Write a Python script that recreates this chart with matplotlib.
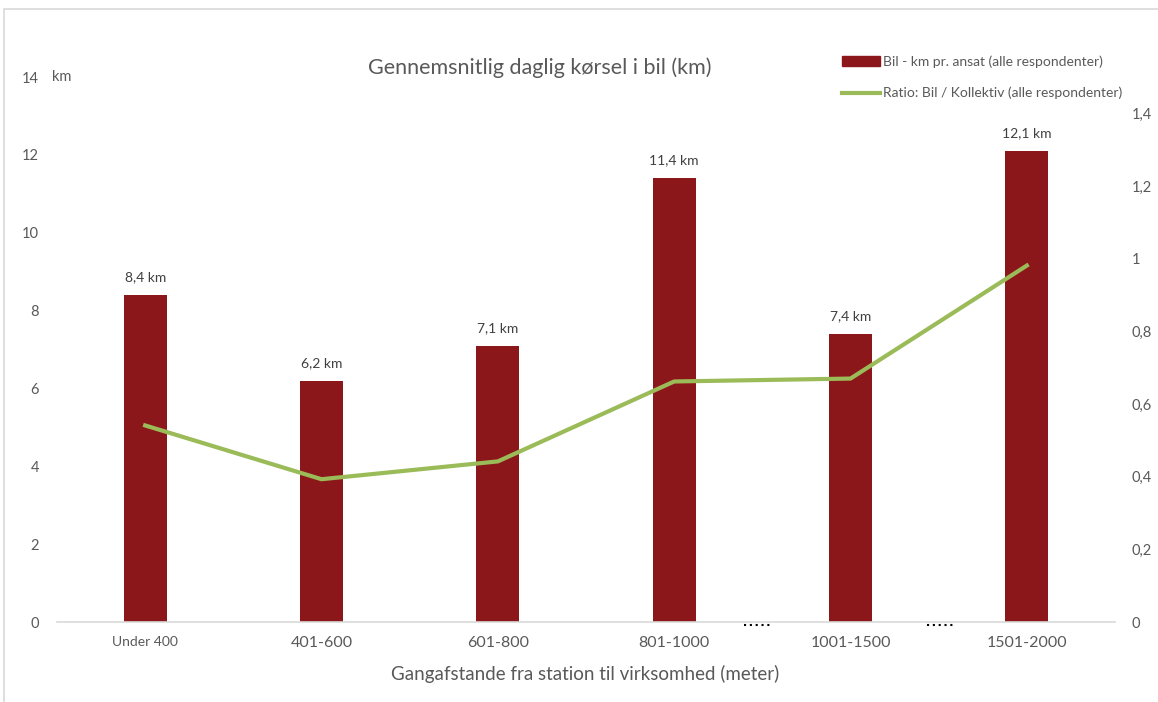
import matplotlib.pyplot as plt
from matplotlib.lines import Line2D
from matplotlib.patches import Patch, Rectangle
import numpy as np

plt.rcParams['font.family'] = ['Lato', 'DejaVu Sans']

categories = ["Under 400", "401-600", "601-800", "801-1000", "1001-1500", "1501-2000"]
bil_km = [8.4, 6.2, 7.1, 11.4, 7.4, 12.1]
ratio = [0.541, 0.393, 0.442, 0.662, 0.670, 0.981]
left_ticks = [0, 2, 4, 6, 8, 10, 12, 14]
right_ticks = [0, 0.2, 0.4, 0.6, 0.8, 1.0, 1.2, 1.4]

bar_color = "#8B171A"
line_color = "#9BBB59"
grey = "#595959"

fig = plt.figure(figsize=(11.58, 7.02), dpi=100)
fig.patches.append(Rectangle((4 / 1158, -0.1), 1.2, 1 - 8.5 / 702 + 0.1,
                             transform=fig.transFigure, fill=False,
                             edgecolor="#D9D9D9", linewidth=1.2))

ax = fig.add_axes([57 / 1158, 1 - 622 / 702, 1058 / 1158, 545 / 702])
x = np.arange(len(categories))
bars = ax.bar(x, bil_km, width=0.245, color=bar_color, zorder=2)
ax.set_xlim(-0.5, len(categories) - 0.5)
ax.set_ylim(0, 14)

for xi, v in zip(x, bil_km):
    ax.text(xi, v + 0.3, f"{v:.1f} km".replace(".", ","), ha="center", va="bottom",
            fontsize=10, color="#404040")

for s in ["top", "left", "right"]:
    ax.spines[s].set_visible(False)
ax.spines["bottom"].set_color("#D9D9D9")
ax.spines["bottom"].set_linewidth(1.2)
ax.tick_params(axis="both", length=0)
ax.set_yticks(left_ticks)
ax.set_yticklabels([str(t) for t in left_ticks], fontsize=10.5, color=grey)
ax.tick_params(axis="y", pad=13)
ax.set_xticks(x)
ax.set_xticklabels(categories, color=grey, fontsize=11.5)
ax.get_xticklabels()[0].set_fontsize(10)
ax.tick_params(axis="x", pad=10)
ax.text(-0.5 - 5 / 176.4, 14, "km", transform=ax.transData, ha="left", va="center",
        fontsize=10.5, color=grey)

ax2 = ax.twinx()
ax2.plot(x, ratio, color=line_color, linewidth=3, zorder=3)
ax2.set_ylim(0, 1.5)
ax2.set_yticks(right_ticks)
ax2.set_yticklabels([f"{t:g}".replace(".", ",") for t in right_ticks], fontsize=10.5, color=grey)
ax2.tick_params(axis="y", length=0, pad=12)
for s in ["top", "left", "right", "bottom"]:
    ax2.spines[s].set_visible(False)

# dotted break marks just below the axis line
for xd in [3.474, 4.514]:
    ax.plot([xd - 0.08, xd + 0.085], [-0.005, -0.005], transform=ax.get_xaxis_transform(),
            color="black", linewidth=1.5, linestyle=(0, (1, 1.8)), clip_on=False)

fig.text(540 / 1158, 1 - 68 / 702, "Gennemsnitlig daglig kørsel i bil (km)",
         ha="center", va="center", fontsize=15.5, color=grey)
fig.text(585 / 1158, 1 - 674 / 702, "Gangafstande fra station til virksomhed (meter)",
         ha="center", va="center", fontsize=13.5, color=grey)

handles = [Patch(color=bar_color), Line2D([], [], color=line_color, linewidth=3)]
labels = ["Bil - km pr. ansat (alle respondenter)", "Ratio: Bil / Kollektiv (alle respondenter)"]
fig.legend(handles, labels, loc="upper left", bbox_to_anchor=(836 / 1158, 1 - 50 / 702),
           frameon=False, fontsize=10, labelcolor=grey, handlelength=2.8,
           handletextpad=0.15, labelspacing=1.35, borderaxespad=0)

fig.savefig("out.png", dpi=100)
